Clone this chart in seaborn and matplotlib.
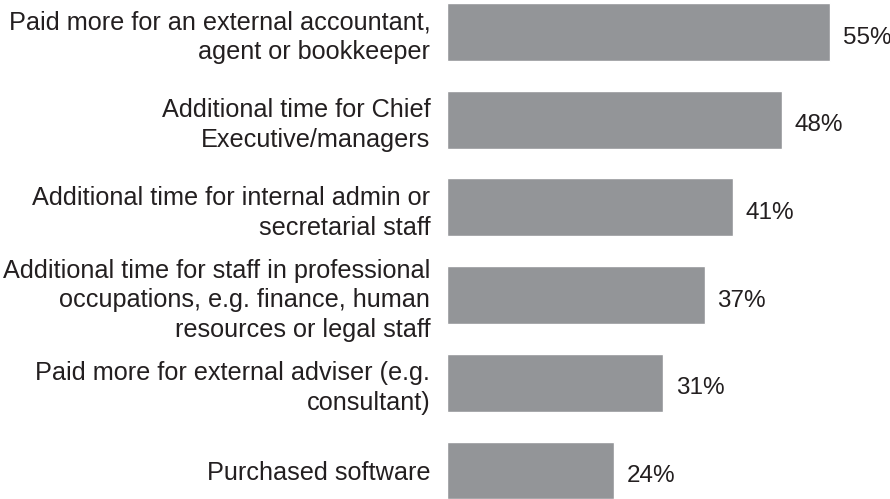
import matplotlib
matplotlib.use("Agg")
import matplotlib.pyplot as plt
import seaborn as sns
import pandas as pd

categories = [
    "Paid more for an external accountant,\nagent or bookkeeper",
    "Additional time for Chief\nExecutive/managers",
    "Additional time for internal admin or\nsecretarial staff",
    "Additional time for staff in professional\noccupations, e.g. finance, human\nresources or legal staff",
    "Paid more for external adviser (e.g.\nconsultant)",
    "Purchased software",
]
values = [55, 48, 41, 37, 31, 24]
value_labels = ["55%", "48%", "41%", "37%", "31%", "24%"]

sns.set_theme(style="white")
plt.rcParams["font.family"] = ["Liberation Sans", "DejaVu Sans"]

df = pd.DataFrame({"cat": categories, "val": values})

fig = plt.figure(figsize=(8.9, 4.99), dpi=100)
ax = fig.add_axes([447 / 890, 0, 443 / 890, 1])

sns.barplot(data=df, x="val", y="cat", orient="h", color="#939598",
            saturation=1, width=0.66, ax=ax)

px = 6.97
ax.set_xlim(0, 443 / px)
sp = 87.7
ax.set_ylim((499 - 32) / sp, -32 / sp)

for i, (v, lab) in enumerate(zip(values, value_labels)):
    ax.annotate(lab, xy=(v, i), xytext=(9, -4), textcoords="offset points",
                ha="left", va="center", fontsize=17.5, color="#231f20",
                annotation_clip=False)

ax.set_xlabel("")
ax.set_ylabel("")
ax.set_xticks([])
ax.tick_params(axis="y", length=0, pad=12, labelsize=18.2, labelcolor="#231f20")
for t in ax.get_yticklabels():
    t.set_horizontalalignment("right")
    t.set_linespacing(1.3)
for s in ax.spines.values():
    s.set_visible(False)

fig.savefig("out.png", dpi=100)
